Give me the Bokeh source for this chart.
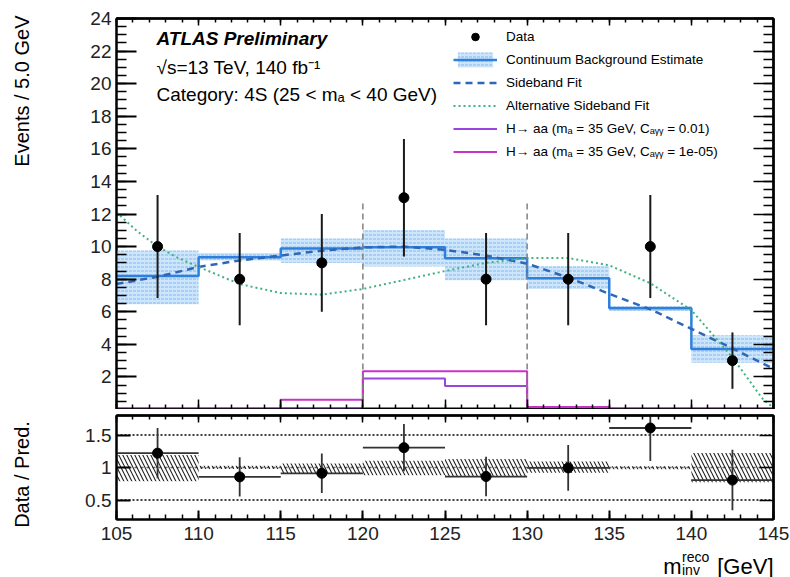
import numpy as np
from bokeh.plotting import figure
from bokeh.models import (ColumnDataSource, FixedTicker, LinearAxis, Label, Legend,
                          LegendItem, Range1d)
from bokeh.layouts import column, row
from bokeh.embed import file_html
from bokeh.resources import INLINE

# ---------------------------------------------------------------- data
bin_edges = [105, 110, 115, 120, 125, 130, 135, 140, 145]
data_counts = [10, 8, 9, 13, 8, 8, 10, 3]
data_err = [3.16, 2.83, 3.00, 3.61, 2.83, 2.83, 3.16, 1.73]

bkg_est = [8.19, 9.35, 9.88, 9.96, 9.29, 8.05, 6.22, 3.72]
bkg_lo = [6.46, 9.15, 9.00, 8.78, 7.93, 7.40, 6.05, 2.87]
bkg_hi = [9.76, 9.60, 10.50, 11.00, 10.50, 8.80, 6.35, 4.55]

sig_c001 = [0.0, 0.0, 0.08, 1.90, 1.45, 0.12, 0.0, 0.0]
sig_c1e5 = [0.0, 0.0, 0.60, 2.35, 2.35, 0.15, 0.0, 0.0]

sb_fit_x = [105, 107.5, 110, 112.5, 115, 117.5, 120, 122.5, 125, 127.5,
            130, 132.5, 135, 137.5, 140, 142.5, 145]
sb_fit_y = [7.70, 8.15, 8.75, 9.15, 9.45, 9.75, 9.95, 10.00, 9.80, 9.45,
            8.95, 8.10, 7.10, 6.15, 4.95, 3.75, 2.50]

alt_fit_x = [105, 106.25, 107.5, 108.75, 110, 112.5, 115, 117.5, 120, 122.5,
             125, 127.5, 130, 132.5, 135, 137.5, 140, 142.5, 144.3, 145]
alt_fit_y = [12.10, 10.95, 10.00, 9.30, 8.75, 7.70, 7.15, 7.05, 7.40, 7.95,
             8.50, 9.00, 9.30, 9.30, 8.85, 7.75, 6.10, 3.20, 0.70, 0.10]

blind_edges = [120, 130]
blind_top = [12.7, 12.7]

x_major = [105, 110, 115, 120, 125, 130, 135, 140, 145]
x_minor = [float(v) for v in range(105, 146)]
y_major = [2, 4, 6, 8, 10, 12, 14, 16, 18, 20, 22, 24]
y_minor = [float(v) for v in np.arange(0, 24.01, 0.5)]
r_major = [0.5, 1.0, 1.5]

FONT = "Liberation Sans"

# ---------------------------------------------------------------- derived columns
edges = np.array(bin_edges, dtype=float)
centers = 0.5 * (edges[:-1] + edges[1:])
counts = np.array(data_counts, dtype=float)
errs = np.array(data_err)
bkg = np.array(bkg_est)


def step_y(vals):
    return list(vals) + [vals[-1]]


src_data = ColumnDataSource(dict(x=centers, y=counts, lo=counts - errs, hi=counts + errs))
src_band = ColumnDataSource(dict(left=edges[:-1], right=edges[1:], bottom=bkg_lo, top=bkg_hi))
ratio = counts / bkg
rerr = errs / bkg
src_ratio = ColumnDataSource(dict(x=centers, y=ratio, lo=ratio - rerr, hi=ratio + rerr,
                                  left=edges[:-1], right=edges[1:]))
src_rband = ColumnDataSource(dict(left=edges[:-1], right=edges[1:],
                                  bottom=np.array(bkg_lo) / bkg, top=np.array(bkg_hi) / bkg))


# ---------------------------------------------------------------- axis helpers
def base_axis(ticks, minor, maj_len, min_len):
    ax = LinearAxis(ticker=FixedTicker(ticks=ticks, minor_ticks=minor))
    ax.axis_line_color = "black"
    ax.axis_line_width = 2
    ax.major_tick_in = maj_len
    ax.major_tick_out = 0
    ax.minor_tick_in = min_len
    ax.minor_tick_out = 0
    ax.major_tick_line_width = 2
    ax.minor_tick_line_width = 1.5
    ax.major_tick_line_color = "black"
    ax.minor_tick_line_color = "black"
    ax.major_label_standoff = 0
    return ax


def labelled_axis(p, side, ticks, minor, maj_len, min_len, standoff):
    ax = base_axis(ticks, minor, maj_len, min_len)
    ax.major_label_text_font = FONT
    ax.major_label_text_font_size = "19px"
    ax.major_label_text_color = "#222222"
    ax.major_label_standoff = standoff
    p.add_layout(ax, side)


def tick_only(p, side, majors, minors, maj_len, min_len):
    # two label-free axes: one carries the long ticks, one the short ones
    p.add_layout(base_axis([], minors, 0, min_len), side)
    p.add_layout(base_axis([], majors, 0, maj_len), side)


def frame_style(p):
    p.grid.visible = False
    p.outline_line_color = "black"
    p.outline_line_width = 2
    p.background_fill_color = "white"
    p.border_fill_color = "white"


# ---------------------------------------------------------------- main panel
p1 = figure(title=None, x_range=Range1d(105, 145), y_range=Range1d(0, 24),
            frame_width=657, frame_height=391, min_border=0,
            min_border_left=71, min_border_right=17, min_border_top=18, min_border_bottom=0,
            x_axis_location=None, y_axis_location=None,
            toolbar_location=None, output_backend="svg")
frame_style(p1)
labelled_axis(p1, "left", y_major, y_minor, 20, 10, 5)
tick_only(p1, "right", y_major, y_minor, 20, 10)
tick_only(p1, "below", x_major, x_minor, 10, 5)
tick_only(p1, "above", x_major, x_minor, 7, 4)

band_r = p1.quad(left="left", right="right", bottom="bottom", top="top", source=src_band,
                 fill_color="#cde5fb", fill_alpha=1.0, line_color=None,
                 hatch_pattern="horizontal_dash", hatch_color="#80b9ef",
                 hatch_scale=4, hatch_weight=1)
bkg_r = p1.step(x=bin_edges, y=step_y(bkg_est), mode="after",
                line_color="#2f80dd", line_width=2.5)
sb_r = p1.line(sb_fit_x, sb_fit_y, line_color="#2e66b8", line_width=2.5, line_dash="7 5")
alt_r = p1.line(alt_fit_x, alt_fit_y, line_color="#3fb27f", line_width=2, line_dash="2 3")
s1_r = p1.step(x=bin_edges, y=step_y(sig_c001), mode="after",
               line_color="#9b45e0", line_width=2)
s2_r = p1.step(x=bin_edges, y=step_y(sig_c1e5), mode="after",
               line_color="#c733c9", line_width=2)

p1.segment(x0=blind_edges, y0=[0, 0], x1=blind_edges, y1=blind_top,
           line_color="#808080", line_width=1.5, line_dash="6 4")

p1.segment(x0="x", y0="lo", x1="x", y1="hi", source=src_data,
           line_color="#1a1a1a", line_width=2)
data_r = p1.scatter(x="x", y="y", source=src_data, size=10,
                    fill_color="black", line_color="black")

legend = Legend(items=[
    LegendItem(label="Data", renderers=[data_r]),
    LegendItem(label="Continuum Background Estimate", renderers=[band_r, bkg_r]),
    LegendItem(label="Sideband Fit", renderers=[sb_r]),
    LegendItem(label="Alternative Sideband Fit", renderers=[alt_r]),
    LegendItem(label="H\u2192 aa (m\u2090 = 35 GeV, C\u2090\u1d67\u1d67 = 0.01)", renderers=[s1_r]),
    LegendItem(label="H\u2192 aa (m\u2090 = 35 GeV, C\u2090\u1d67\u1d67 = 1e-05)", renderers=[s2_r]),
], location=(337, 248), orientation="vertical")
legend.glyph_width = 44
legend.glyph_height = 19
legend.label_height = 19
legend.spacing = 4
legend.padding = 0
legend.margin = 0
legend.label_standoff = 9
legend.border_line_color = None
legend.background_fill_alpha = 0
legend.label_text_font = FONT
legend.label_text_font_size = "13.5px"
legend.label_text_color = "black"
p1.add_layout(legend)


def text(p, x, y, s, size, dx=0, dy=0, style="normal", align="left",
         baseline="alphabetic", angle=0.0):
    p.add_layout(Label(x=x, y=y, x_offset=dx, y_offset=dy, text=s,
                       text_font=FONT, text_font_size=size, text_font_style=style,
                       text_align=align, text_baseline=baseline, text_color="black",
                       angle=angle))


text(p1, 105, 24, "ATLAS Preliminary", "19px", 40, -20, style="bold italic")
text(p1, 105, 24, "\u221as=13 TeV, 140 fb\u207b\u00b9", "19px", 40, -49)
text(p1, 105, 24, "Category: 4S (25 < m\u2090 < 40 GeV)", "19px", 40, -76)

# ---------------------------------------------------------------- ratio panel
p2 = figure(title=None, x_range=p1.x_range, y_range=Range1d(0.2, 1.8),
            frame_width=657, frame_height=104, min_border=0,
            min_border_left=71, min_border_right=17, min_border_top=6, min_border_bottom=30,
            x_axis_location=None, y_axis_location=None,
            toolbar_location=None, output_backend="svg")
frame_style(p2)
labelled_axis(p2, "left", r_major, [], 14, 7, 5)
labelled_axis(p2, "below", x_major, x_minor, 9, 5, 7)
tick_only(p2, "right", r_major, [], 14, 7)
tick_only(p2, "above", x_major, x_minor, 7, 4)

for lvl, col, dash in ((0.5, "black", "2 2"), (1.5, "black", "2 2"), (1.0, "#666666", "3 3")):
    p2.line([105, 145], [lvl, lvl], line_color=col, line_width=1.3, line_dash=dash)

p2.quad(left="left", right="right", bottom="bottom", top="top", source=src_rband,
        fill_alpha=0, line_color=None, hatch_pattern="left_diagonal_line",
        hatch_color="#222222", hatch_scale=8, hatch_weight=1.1)

p2.segment(x0="left", y0="y", x1="right", y1="y", source=src_ratio,
           line_color="#333333", line_width=1.8)
p2.segment(x0="x", y0="lo", x1="x", y1="hi", source=src_ratio,
           line_color="#333333", line_width=1.8)
p2.scatter(x="x", y="y", source=src_ratio, size=10, fill_color="black", line_color="black")


# ---------------------------------------------------------------- title strips
def strip(w, h, xr, yr, left=0, right=0):
    s = figure(title=None, x_range=Range1d(*xr), y_range=Range1d(*yr),
               frame_width=w, frame_height=h,
               min_border=0, min_border_left=left, min_border_right=right,
               x_axis_location=None, y_axis_location=None,
               toolbar_location=None, output_backend="svg")
    s.grid.visible = False
    s.outline_line_color = None
    s.background_fill_color = "white"
    s.border_fill_color = "white"
    return s


# page-pixel coordinates inside the strips (y grows downward)
left_strip = strip(45, 577, (0, 45), (577, 0))
text(left_strip, 21, 15, "Events / 5.0 GeV", "20px", align="right",
     baseline="middle", angle=np.pi / 2)
text(left_strip, 21, 474, "Data / Pred.", "20px", align="center",
     baseline="middle", angle=np.pi / 2)

strip_top = 409 + 6 + 104 + 30
bottom_strip = strip(657, 577 - strip_top, (116, 773), (577, strip_top), left=71, right=17)
text(bottom_strip, 773, 565.5, "[GeV]", "22px", align="right")
text(bottom_strip, 681, 565.5, "m", "22px", align="right")
text(bottom_strip, 681.5, 556, "reco", "14px")
text(bottom_strip, 681.5, 569.5, "inv", "14px")

layout = row(left_strip, column(p1, p2, bottom_strip, spacing=0), spacing=0)
open("out.html", "w").write(file_html(layout, INLINE))
